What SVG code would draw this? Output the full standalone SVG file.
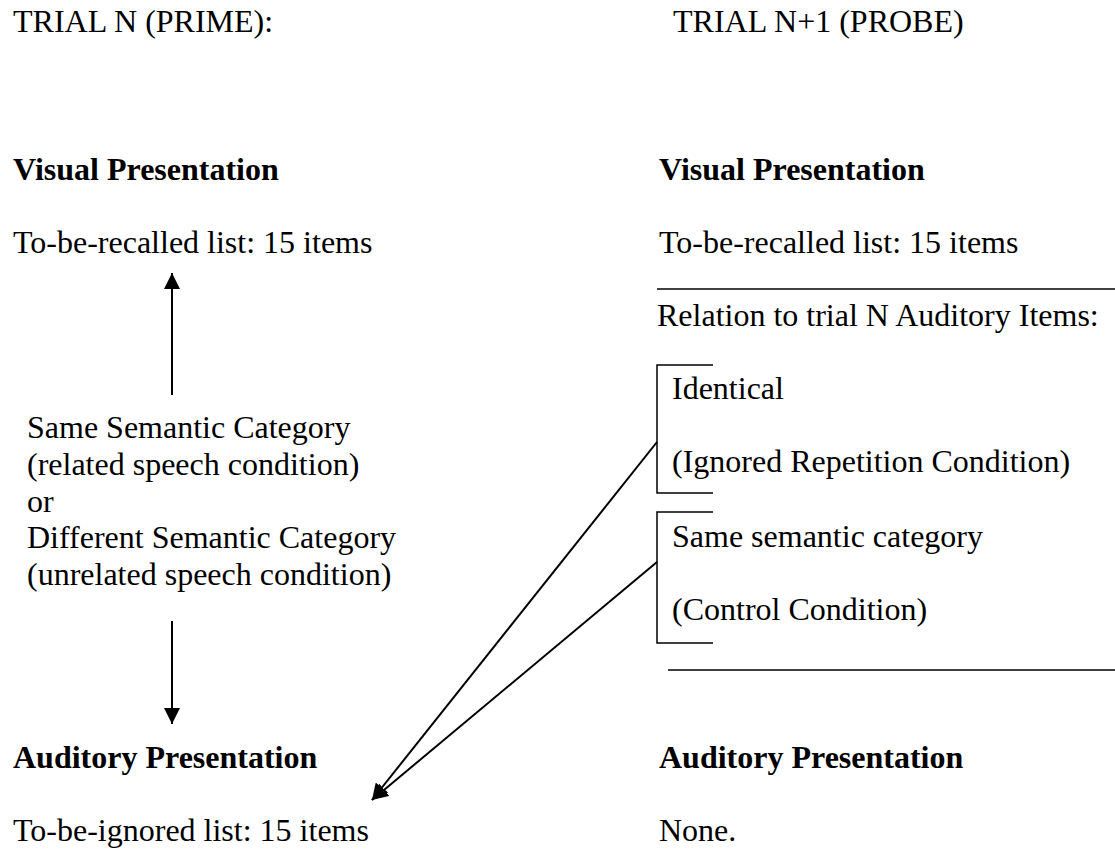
<svg xmlns="http://www.w3.org/2000/svg" width="1115" height="852" viewBox="0 0 1115 852">
<style>
text{font-family:"Liberation Serif","Times New Roman",serif;font-size:32px;fill:#000}
.b{font-weight:bold}
.ln{stroke:#000;stroke-width:1.5;fill:none}
.ar{stroke:#000;stroke-width:2;fill:none}
</style>
<defs>
<marker id="ah" markerWidth="16" markerHeight="16" refX="16" refY="8" orient="auto" markerUnits="userSpaceOnUse" viewBox="0 0 16 16">
<path d="M0,0 L16,8 L0,16 Z" fill="#000"/>
</marker>
</defs>
<rect width="1115" height="852" fill="#fff"/>
<g id="prime">
<text x="13" y="32">TRIAL N (PRIME):</text>
<text x="13" y="180" class="b">Visual Presentation</text>
<text x="13" y="253">To-be-recalled list: 15 items</text>
</g>
<g id="condition">
<text x="27" y="438">Same Semantic Category</text>
<text x="27" y="475">(related speech condition)</text>
<text x="27" y="512">or</text>
<text x="27" y="548">Different Semantic Category</text>
<text x="27" y="585">(unrelated speech condition)</text>
</g>
<g id="auditory">
<text x="13" y="768" class="b">Auditory Presentation</text>
<text x="13" y="841">To-be-ignored list: 15 items</text>
</g>
<g id="probe">
<text x="673" y="32">TRIAL N+1 (PROBE)</text>
<text x="659" y="180" class="b">Visual Presentation</text>
<text x="659" y="253">To-be-recalled list: 15 items</text>
<line class="ln" x1="657" y1="289" x2="1115" y2="289"/>
<text x="657" y="326">Relation to trial N Auditory Items:</text>
<line class="ln" x1="668" y1="670" x2="1115" y2="670"/>
</g>
<g id="identical">
<path class="ln" d="M713,365 H657 V493 H713"/>
<text x="672" y="399">Identical</text>
<text x="672" y="472">(Ignored Repetition Condition)</text>
</g>
<g id="same-category">
<path class="ln" d="M713,512 H657 V643 H713"/>
<text x="672" y="547">Same semantic category</text>
<text x="672" y="620">(Control Condition)</text>
</g>
<g id="probe-auditory">
<text x="659" y="768" class="b">Auditory Presentation</text>
<text x="659" y="841">None.</text>
</g>
<g id="connectors">
<line class="ar" x1="172" y1="395" x2="172" y2="273" marker-end="url(#ah)"/>
<line class="ar" x1="172" y1="621" x2="172" y2="724" marker-end="url(#ah)"/>
<line class="ar" x1="657" y1="442" x2="372" y2="800" marker-end="url(#ah)"/>
<line class="ar" x1="657" y1="562" x2="372" y2="800" marker-end="url(#ah)"/>
</g>
</svg>
